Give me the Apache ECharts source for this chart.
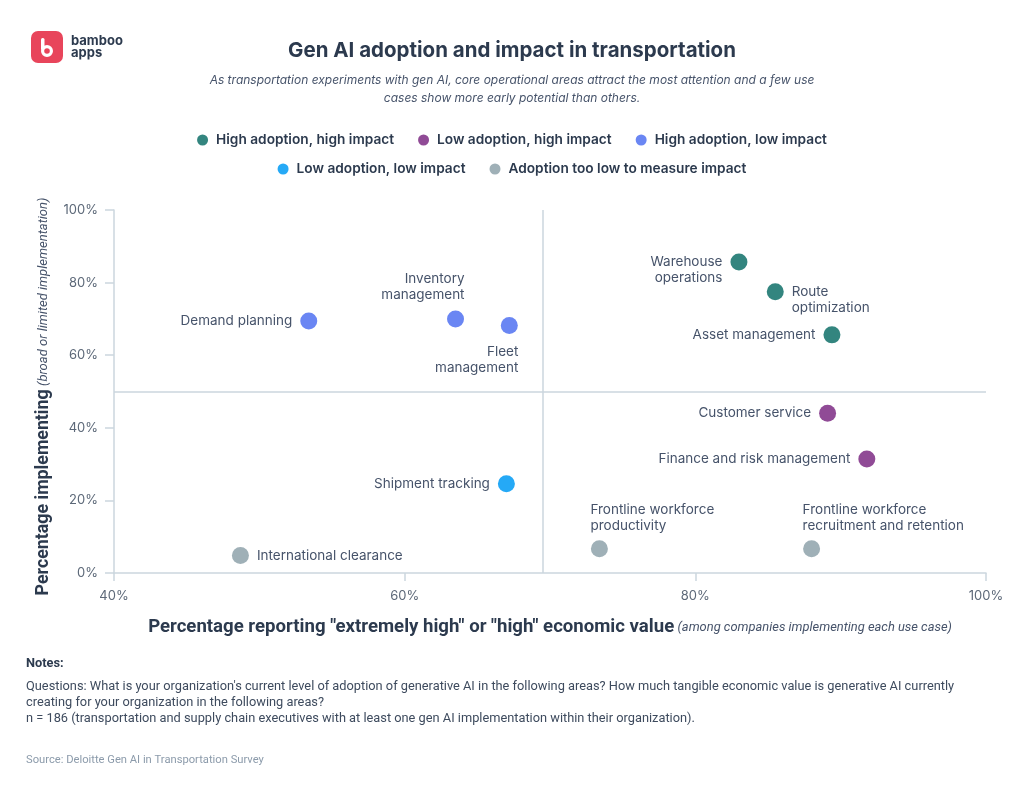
<!DOCTYPE html>
<html>
<head>
<meta charset="utf-8">
<script src="https://cdn.jsdelivr.net/npm/echarts@6/dist/echarts.min.js"></script>
<style>
html,body{margin:0;padding:0;background:#fff;}
#chart{width:1024px;height:799px;}
</style>
</head>
<body>
<div id="chart"></div>
<script>
// ---- Data ----
const categories = [
  'High adoption, high impact',
  'Low adoption, high impact',
  'High adoption, low impact',
  'Low adoption, low impact',
  'Adoption too low to measure impact'
];
const categoryColors = ['#33857F', '#904B96', '#6A86F3', '#25A9F6', '#9FB0B7'];

// [economic value %, implementing %, name]
const highHigh = [
  [83.0, 85.7, 'Warehouse\noperations'],
  [85.5, 77.5, 'Route\noptimization'],
  [89.4, 65.6, 'Asset management']
];
const lowHigh = [
  [89.1, 44.0, 'Customer service'],
  [91.8, 31.4, 'Finance and risk management']
];
const highLow = [
  [53.4, 69.4, 'Demand planning'],
  [63.5, 70.0, 'Inventory\nmanagement'],
  [67.2, 68.2, 'Fleet\nmanagement']
];
const lowLow = [
  [67.0, 24.6, 'Shipment tracking']
];
const tooLow = [
  [48.7, 4.8, 'International clearance'],
  [73.4, 6.7, 'Frontline workforce\nproductivity'],
  [88.0, 6.7, 'Frontline workforce\nrecruitment and retention']
];
const seriesData = [highHigh, lowHigh, highLow, lowLow, tooLow];

const xTicks = [40, 60, 80, 100];
const yTicks = [0, 20, 40, 60, 80, 100];
const xDivider = 69.5;
const yDivider = 50;

// ---- Label placement (style) ----
const labelStyle = {
  'Warehouse\noperations': {position: 'left', offset: [0, 8]},
  'Route\noptimization': {position: 'right', offset: [0, 8]},
  'Asset management': {position: 'left'},
  'Customer service': {position: 'left'},
  'Finance and risk management': {position: 'left'},
  'Demand planning': {position: 'left'},
  'Inventory\nmanagement': {position: 'top', align: 'right', offset: [9, 0], distance: 7},
  'Fleet\nmanagement': {position: 'bottom', align: 'right', offset: [9, 0], distance: 10},
  'Shipment tracking': {position: 'left'},
  'International clearance': {position: 'right'},
  'Frontline workforce\nproductivity': {position: 'top', align: 'left', offset: [-9, 0], distance: 6},
  'Frontline workforce\nrecruitment and retention': {position: 'top', align: 'left', offset: [-9, 0], distance: 6}
};

const FONT = 'Inter, "Noto Sans", sans-serif';
const FONT2 = 'Roboto, "Noto Sans", sans-serif';
const axisColor = '#CBD6DE';

const series = categories.map((cat, i) => ({
  name: cat,
  type: 'scatter',
  symbolSize: 17,
  itemStyle: {color: categoryColors[i], opacity: 1},
  data: seriesData[i].map(d => ({
    value: [d[0], d[1]],
    name: d[2],
    label: Object.assign({
      show: true,
      formatter: d[2],
      color: '#46536A',
      fontSize: 13.5,
      fontFamily: FONT,
      lineHeight: 16,
      distance: 8
    }, labelStyle[d[2]] || {position: 'left'})
  })),
  emphasis: {disabled: true}
}));

// quadrant divider lines
series.push({
  type: 'scatter',
  data: [],
  silent: true,
  markLine: {
    silent: true,
    symbol: ['none', 'none'],
    label: {show: false},
    lineStyle: {color: axisColor, width: 1.5, type: 'solid'},
    data: [
      [{coord: [xDivider, yTicks[0]]}, {coord: [xDivider, yTicks[yTicks.length - 1]]}],
      [{coord: [xTicks[0], yDivider]}, {coord: [xTicks[xTicks.length - 1], yDivider]}]
    ]
  }
});

const chart = echarts.init(document.getElementById('chart'), null, {renderer: 'canvas'});

const legendText = {fontSize: 13.7, fontWeight: 600, color: '#2C3A4E', fontFamily: FONT, padding: [0, 0, 0, 3]};

const option = {
  backgroundColor: '#ffffff',
  animation: false,
  textStyle: {fontFamily: FONT},
  title: [
    {
      text: 'Gen AI adoption and impact in transportation',
      left: 'center',
      top: 35,
      textStyle: {fontSize: 20.5, fontWeight: 'bold', color: '#2C3A4E', fontFamily: FONT}
    }
  ],
  legend: [
    {
      data: categories.slice(0, 3),
      left: 'center',
      top: 128,
      icon: 'circle',
      itemWidth: 11,
      itemHeight: 11,
      itemGap: 24,
      textStyle: legendText,
      selectedMode: false
    },
    {
      data: categories.slice(3),
      left: 'center',
      top: 157,
      icon: 'circle',
      itemWidth: 11,
      itemHeight: 11,
      itemGap: 24,
      textStyle: legendText,
      selectedMode: false
    }
  ],
  grid: {left: 114, right: 38, top: 210, bottom: 226, containLabel: false},
  xAxis: {
    type: 'value',
    min: xTicks[0],
    max: xTicks[xTicks.length - 1],
    interval: 20,
    name: '{b|Percentage reporting "extremely high" or "high" economic value} {i|(among companies implementing each use case)}',
    nameLocation: 'middle',
    nameGap: 45,
    nameTextStyle: {
      rich: {
        b: {fontSize: 18.6, fontWeight: 'bold', color: '#2C3A4E', fontFamily: FONT2},
        i: {fontSize: 12.9, fontStyle: 'italic', color: '#46536A', fontFamily: FONT2}
      }
    },
    axisLine: {show: true, lineStyle: {color: axisColor, width: 1.5}},
    axisTick: {show: true, length: 8, lineStyle: {color: axisColor, width: 1.5}},
    axisLabel: {formatter: '{value}%', color: '#5C6878', fontSize: 13, margin: 17, fontFamily: FONT},
    splitLine: {show: false}
  },
  yAxis: {
    type: 'value',
    min: yTicks[0],
    max: yTicks[yTicks.length - 1],
    interval: 20,
    name: '{b|Percentage implementing} {i|(broad or limited implementation)}',
    nameLocation: 'middle',
    nameRotate: 90,
    nameGap: 60,
    nameTextStyle: {
      padding: [0, 10, 0, 0],
      rich: {
        b: {fontSize: 17.8, fontWeight: 'bold', color: '#2C3A4E', fontFamily: FONT2},
        i: {fontSize: 13, fontStyle: 'italic', color: '#46536A', fontFamily: FONT2}
      }
    },
    axisLine: {show: true, lineStyle: {color: axisColor, width: 1.5}},
    axisTick: {show: true, length: 9, lineStyle: {color: axisColor, width: 1.5}},
    axisLabel: {formatter: '{value}%', color: '#5C6878', fontSize: 13, margin: 16, fontFamily: FONT},
    splitLine: {show: false}
  },
  graphic: [
    {
      type: 'rect',
      x: 31, y: 31,
      shape: {x: 0, y: 0, width: 32, height: 32, r: 7},
      style: {fill: '#E8455B'}
    },
    {
      type: 'rect',
      x: 41, y: 38,
      shape: {x: 0, y: 0, width: 3.5, height: 12, r: 1.5},
      style: {fill: '#ffffff'}
    },
    {
      type: 'ring',
      x: 47, y: 51,
      shape: {cx: 0, cy: 0, r: 6, r0: 2.8},
      style: {fill: '#ffffff'}
    },
    {
      type: 'text',
      x: 71, y: 35,
      style: {text: 'bamboo\napps', fill: '#2C3A4E', font: 'bold 13px ' + FONT, lineHeight: 12}
    },
    {
      type: 'text',
      x: 512, y: 71,
      style: {
        text: 'As transportation experiments with gen AI, core operational areas attract the most attention and a few use\ncases show more early potential than others.',
        fill: '#46536A',
        font: 'italic 12px ' + FONT,
        lineHeight: 18,
        textAlign: 'center',
        align: 'center'
      }
    },
    {
      type: 'text',
      x: 26, y: 657,
      style: {text: 'Notes:', fill: '#2C3A4E', font: 'bold 12.8px ' + FONT2}
    },
    {
      type: 'text',
      x: 26, y: 679,
      style: {
        text: "Questions: What is your organization's current level of adoption of generative AI in the following areas? How much tangible economic value is generative AI currently\ncreating for your organization in the following areas?\nn = 186 (transportation and supply chain executives with at least one gen AI implementation within their organization).",
        fill: '#3E4B5E',
        font: '12.8px ' + FONT2,
        lineHeight: 16
      }
    },
    {
      type: 'text',
      x: 26, y: 755,
      style: {text: 'Source: Deloitte Gen AI in Transportation Survey', fill: '#8C9BAB', font: '11.2px ' + FONT2}
    }
  ],
  series: series
};

chart.setOption(option);
</script>
</body>
</html>
